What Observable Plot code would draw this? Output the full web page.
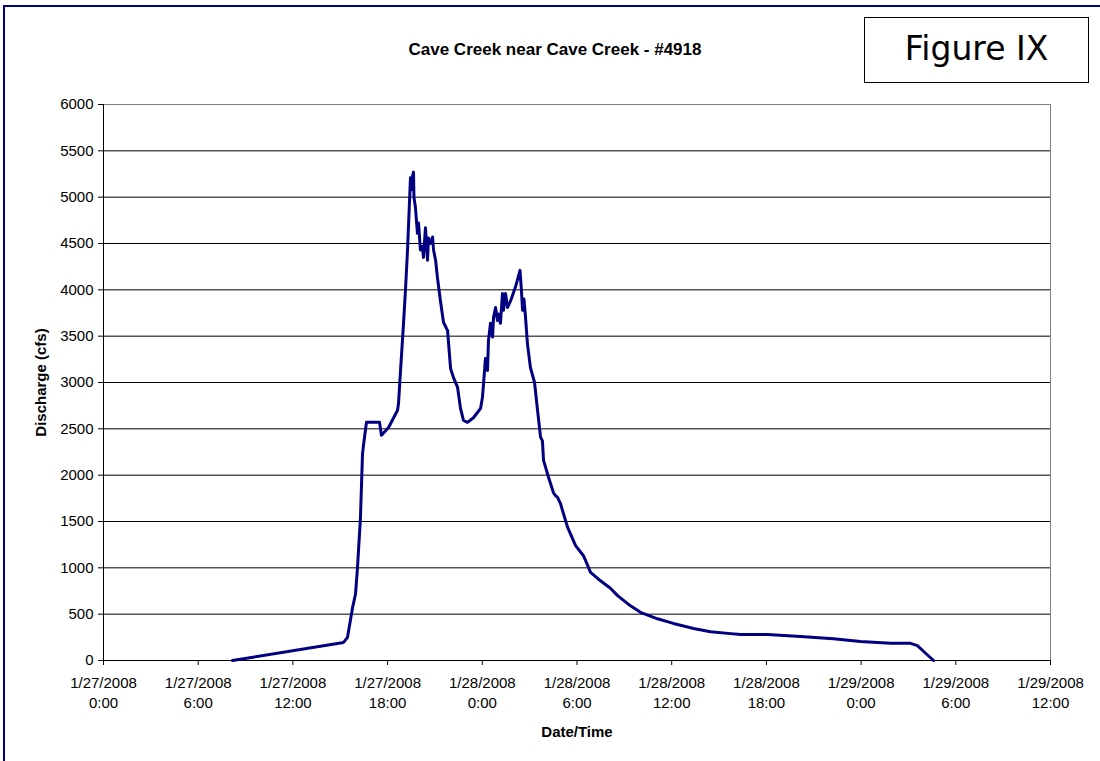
<!DOCTYPE html>
<html><head><meta charset="utf-8">
<script src="https://cdn.jsdelivr.net/npm/d3@7"></script>
<script src="https://cdn.jsdelivr.net/npm/@observablehq/plot@0.6"></script>
<style>
body{margin:0;background:#fff;}
#wrap{position:relative;width:1100px;height:761px;overflow:hidden;background:#fff;font-family:"Liberation Sans",Arial,sans-serif;color:#000;}
#chart{position:absolute;left:0;top:0;}
#title{position:absolute;left:0;width:1110px;top:40px;text-align:center;font-weight:bold;font-size:17px;line-height:20px;}
#fig{position:absolute;left:864px;top:17px;width:225px;height:66px;border:1.5px solid #000;box-sizing:border-box;font-family:"DejaVu Sans",sans-serif;font-size:33px;line-height:62px;text-align:center;}
#bTop{position:absolute;left:3px;top:5px;width:1100px;height:2px;background:#000080;}
#bLeft{position:absolute;left:3px;top:5px;width:2px;height:760px;background:#000080;}
svg g[aria-label="y-axis label"] text, svg g[aria-label="x-axis label"] text{font-weight:bold;}
</style></head>
<body>
<div id="wrap">
  <div id="chart"></div>
  <div id="title">Cave Creek near Cave Creek - #4918</div>
  <div id="fig">Figure IX</div>
  <div id="bTop"></div>
  <div id="bLeft"></div>
</div>
<script>
// hours after 1/27/2008 0:00
const hours = [8.17,15.21,15.46,15.78,15.97,16.09,16.28,16.41,16.47,16.66,17.49,17.61,18.06,18.63,18.69,18.82,19.01,19.13,19.26,19.39,19.45,19.51,19.58,19.64,19.67,19.77,19.89,19.96,20.08,20.21,20.27,20.40,20.53,20.59,20.72,20.85,20.91,21.04,21.16,21.35,21.54,21.80,21.99,22.18,22.43,22.62,22.81,23.06,23.44,23.89,24.01,24.08,24.20,24.33,24.39,24.52,24.65,24.71,24.84,24.96,25.03,25.15,25.28,25.34,25.47,25.60,25.79,26.10,26.39,26.48,26.55,26.64,26.74,26.86,27.05,27.31,27.50,27.69,27.81,27.88,28.19,28.51,28.64,28.77,28.96,29.08,29.40,29.91,30.41,30.54,30.86,31.49,32.12,32.57,33.39,34.02,35.10,36.11,37.38,38.46,39.73,40.36,42.07,44.16,46.25,47.96,49.86,51.13,51.57,51.95,52.59];
// discharge (cfs)
const discharge = [0,195,250,570,720,1000,1540,2230,2320,2570,2570,2430,2515,2700,2770,3130,3640,3990,4420,4960,5210,5080,5230,5270,5000,4880,4610,4720,4430,4470,4350,4670,4320,4560,4500,4570,4430,4320,4130,3880,3650,3560,3150,3050,2950,2720,2590,2570,2620,2720,2840,2990,3260,3130,3450,3640,3490,3700,3810,3670,3740,3640,3960,3780,3960,3810,3880,4030,4210,3990,3780,3900,3700,3420,3160,3000,2700,2410,2370,2160,1980,1810,1780,1760,1690,1620,1440,1240,1130,1080,950,860,780,700,590,520,450,400,345,310,290,280,280,260,235,205,185,185,160,100,0];
const tickHours = [0,6,12,18,24,30,36,42,48,54,60];
const yTicks = [0,500,1000,1500,2000,2500,3000,3500,4000,4500,5000,5500,6000];

const start = Date.UTC(2008,0,27);
const toDate = h => new Date(start + h*3600e3);
const data = hours.map((h,i)=>({t:toDate(h), q:discharge[i]}));
const xTicks = tickHours.map(toDate);
const fmt = d => `${d.getUTCMonth()+1}/${d.getUTCDate()}/${d.getUTCFullYear()}\n${d.getUTCHours()}:${String(d.getUTCMinutes()).padStart(2,"0")}`;

const chart = Plot.plot({
  width:1100, height:761,
  marginLeft:103, marginRight:50, marginTop:104, marginBottom:101,
  style:{fontFamily:"'Liberation Sans', Arial, sans-serif", fontSize:"15px", color:"#000", background:"transparent", overflow:"visible"},
  x:{type:"utc", domain:[xTicks[0], xTicks[xTicks.length-1]]},
  y:{domain:[0,6000]},
  marks:[
    Plot.gridY(yTicks,{stroke:"#000",strokeOpacity:1}),
    Plot.frame({stroke:"#808080"}),
    Plot.ruleX([xTicks[0]],{stroke:"#000"}),
    Plot.ruleY([0],{stroke:"#000"}),
    Plot.axisY(yTicks,{tickSize:5,tickPadding:5,stroke:"#000",tickFormat:d=>String(d),label:"Discharge (cfs)",labelAnchor:"center",labelArrow:"none",labelOffset:68}),
    Plot.axisX(xTicks,{tickSize:5,tickPadding:8,stroke:"#000",tickFormat:fmt,lineHeight:1.33,label:"Date/Time",labelAnchor:"center",labelArrow:"none",labelOffset:76}),
    Plot.line(data,{x:"t",y:"q",stroke:"#000080",strokeWidth:3})
  ]
});
document.getElementById("chart").appendChild(chart);
</script>
</body></html>
